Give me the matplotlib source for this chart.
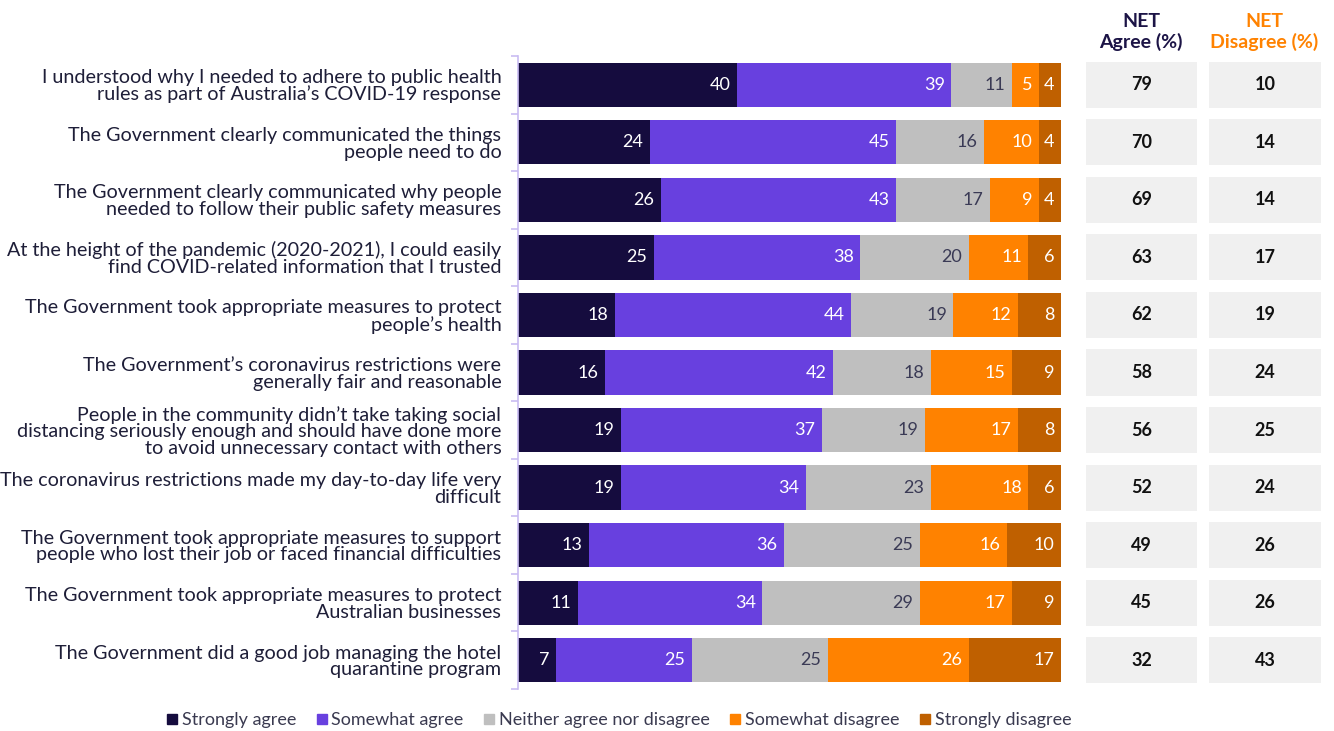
import matplotlib
matplotlib.use("Agg")
import matplotlib.pyplot as plt
import numpy as np
from matplotlib.lines import Line2D

plt.rcParams['font.family'] = ['Lato', 'DejaVu Sans']

statements = [
    "I understood why I needed to adhere to public health\nrules as part of Australia\u2019s COVID-19 response",
    "The Government clearly communicated the things\npeople need to do",
    "The Government clearly communicated why people\nneeded to follow their public safety measures",
    "At the height of the pandemic (2020-2021), I could easily\nfind COVID-related information that I trusted",
    "The Government took appropriate measures to protect\npeople\u2019s health",
    "The Government\u2019s coronavirus restrictions were\ngenerally fair and reasonable",
    "People in the community didn\u2019t take taking social\ndistancing seriously enough and should have done more\nto avoid unnecessary contact with others",
    "The coronavirus restrictions made my day-to-day life very\ndifficult",
    "The Government took appropriate measures to support\npeople who lost their job or faced financial difficulties",
    "The Government took appropriate measures to protect\nAustralian businesses",
    "The Government did a good job managing the hotel\nquarantine program",
]
series_names = ["Strongly agree", "Somewhat agree", "Neither agree nor disagree",
                "Somewhat disagree", "Strongly disagree"]
strongly_agree = [40, 24, 26, 25, 18, 16, 19, 19, 13, 11, 7]
somewhat_agree = [39, 45, 43, 38, 44, 42, 37, 34, 36, 34, 25]
neither = [11, 16, 17, 20, 19, 18, 19, 23, 25, 29, 25]
somewhat_disagree = [5, 10, 9, 11, 12, 15, 17, 18, 16, 17, 26]
strongly_disagree = [4, 4, 4, 6, 8, 9, 8, 6, 10, 9, 17]
net_agree = [79, 70, 69, 63, 62, 58, 56, 52, 49, 45, 32]
net_disagree = [10, 14, 14, 17, 19, 24, 25, 24, 26, 26, 43]

colors = ["#150c3e", "#6840df", "#bfbfbf", "#ff8200", "#bf6000"]
label_colors = ["white", "white", "#3a3a55", "white", "white"]

W, H = 1334, 731
fig = plt.figure(figsize=(W / 100, H / 100), dpi=100)

ax = fig.add_axes([518 / W, 1 - 689 / H, (1061 - 518) / W, (689 - 56) / H])
n = len(statements)
y = np.arange(n)
data = np.array([strongly_agree, somewhat_agree, neither, somewhat_disagree, strongly_disagree], dtype=float)
totals = data.sum(axis=0)
left = np.zeros(n)
for k in range(5):
    w = data[k] / totals * 100
    ax.barh(y, w, left=left, height=0.77, color=colors[k], edgecolor='none')
    for i in range(n):
        ax.text(left[i] + w[i] - 1.2, y[i], f"{int(data[k][i])}", ha='right', va='center',
                color=label_colors[k], fontsize=13)
    left += w

ax.set_xlim(0, 100)
ax.set_ylim(n - 0.5, -0.5)
ax.set_xticks([])
ax.set_yticks(y)
ax.set_yticklabels(statements, fontsize=14.2, color="#1e1e38", linespacing=0.98)
ax.tick_params(axis='y', length=0, pad=12)
for s in ['top', 'right', 'bottom']:
    ax.spines[s].set_visible(False)
ax.spines['left'].set_color("#c9bcf2")
ax.spines['left'].set_linewidth(1.2)
ax.set_yticks(np.arange(-0.5, n + 0.5, 1), minor=True)
ax.tick_params(axis='y', which='minor', length=5, color="#c9bcf2", width=1.2)

# NET columns
ax2 = fig.add_axes([1086 / W, 1 - 689 / H, (1321 - 1086) / W, (689 - 56) / H])
ax2.set_xlim(0, 2)
ax2.set_ylim(n - 0.5, -0.5)
ax2.barh(y, 0.945, left=0, height=0.8, color="#f0f0f0")
ax2.barh(y, 0.955, left=1.045, height=0.8, color="#f0f0f0")
for i in range(n):
    ax2.text(0.4725, y[i], str(net_agree[i]), ha='center', va='center', fontsize=13,
             fontweight='bold', color="#111111")
    ax2.text(1.5225, y[i], str(net_disagree[i]), ha='center', va='center', fontsize=13,
             fontweight='bold', color="#111111")
ax2.axis('off')

fig.text(1141 / W, 1 - 32 / H, "NET\nAgree (%)", ha='center', va='center', fontsize=14,
         fontweight='bold', color="#1c1446", linespacing=1.15)
fig.text(1264 / W, 1 - 32 / H, "NET\nDisagree (%)", ha='center', va='center', fontsize=14,
         fontweight='bold', color="#ff8200", linespacing=1.15)

handles = [Line2D([0], [0], marker='s', linestyle='none', markersize=7,
                  markerfacecolor=c, markeredgecolor=c) for c in colors]
leg = fig.legend(handles, series_names, loc='center', bbox_to_anchor=(618 / W, 1 - 720 / H),
                 ncol=5, frameon=False, fontsize=13, handletextpad=0.15, columnspacing=1.0,
                 handlelength=0.8)
for t in leg.get_texts():
    t.set_color("#3a3a50")

fig.savefig("out.png", dpi=100)
